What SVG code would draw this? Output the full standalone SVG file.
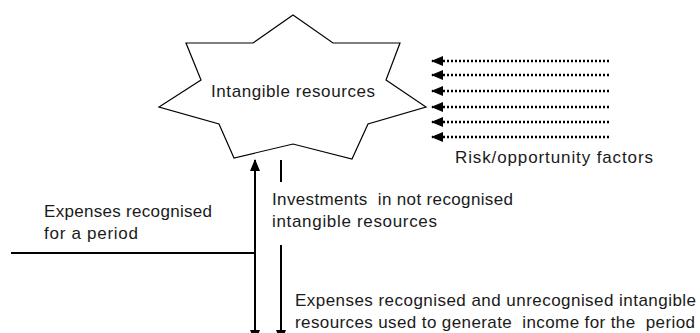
<svg xmlns="http://www.w3.org/2000/svg" width="700" height="333" viewBox="0 0 700 333">
  <style>
    text { font-family: "Liberation Sans", Arial, sans-serif; font-size: 17px; fill: #1a1a1a; white-space: pre; }
    .ln { stroke: #000; stroke-width: 2; fill: none; }
    .dot { stroke: #000; stroke-width: 2.5; stroke-dasharray: 2 2; fill: none; }
  </style>
  <defs>
    <marker id="ah" markerWidth="12" markerHeight="10" refX="11" refY="5" orient="auto" markerUnits="userSpaceOnUse">
      <path d="M0,0 L12,5 L0,10 z" fill="#000"/>
    </marker>
  </defs>
  <rect width="700" height="333" fill="#fff"/>

  <g id="intangible-resources">
    <polygon points="293,15 333,43 400,43 386,80 426,107 368,124 352,159 293,144 234,158 219,124 159,107 201,80 186,43 253,43" fill="#fff" stroke="#000" stroke-width="1.2"/>
    <text x="293" y="97" text-anchor="middle" textLength="164">Intangible resources</text>
  </g>

  <g id="risk-factors">
    <text x="455" y="163" textLength="198">Risk/opportunity factors</text>
  </g>

  <g id="expenses-period">
    <text x="44" y="217" textLength="168">Expenses recognised</text>
    <text x="44" y="239" textLength="94">for a period</text>
  </g>

  <g id="investments">
    <text x="272" y="205" textLength="241">Investments  in not recognised</text>
    <text x="272" y="227" textLength="165">intangible resources</text>
  </g>

  <g id="expenses-income">
    <text x="295" y="306" textLength="401">Expenses recognised and unrecognised intangible</text>
    <text x="295" y="328" textLength="400">resources used to generate  income for the  period</text>
  </g>

  <g id="connectors">
    <path class="ln" d="M11,253 H255 V160" marker-end="url(#ah)"/>
    <line class="ln" x1="255" y1="253" x2="255" y2="341" marker-end="url(#ah)"/>
    <line class="ln" x1="281" y1="160" x2="281" y2="182"/>
    <line class="ln" x1="281" y1="245" x2="281" y2="341" marker-end="url(#ah)"/>
    <line class="dot" x1="609" y1="61" x2="432" y2="61" marker-end="url(#ah)"/>
    <line class="dot" x1="609" y1="75" x2="432" y2="75" marker-end="url(#ah)"/>
    <line class="dot" x1="609" y1="91" x2="432" y2="91" marker-end="url(#ah)"/>
    <line class="dot" x1="609" y1="107" x2="432" y2="107" marker-end="url(#ah)"/>
    <line class="dot" x1="609" y1="122" x2="432" y2="122" marker-end="url(#ah)"/>
    <line class="dot" x1="609" y1="137" x2="432" y2="137" marker-end="url(#ah)"/>
  </g>
</svg>
